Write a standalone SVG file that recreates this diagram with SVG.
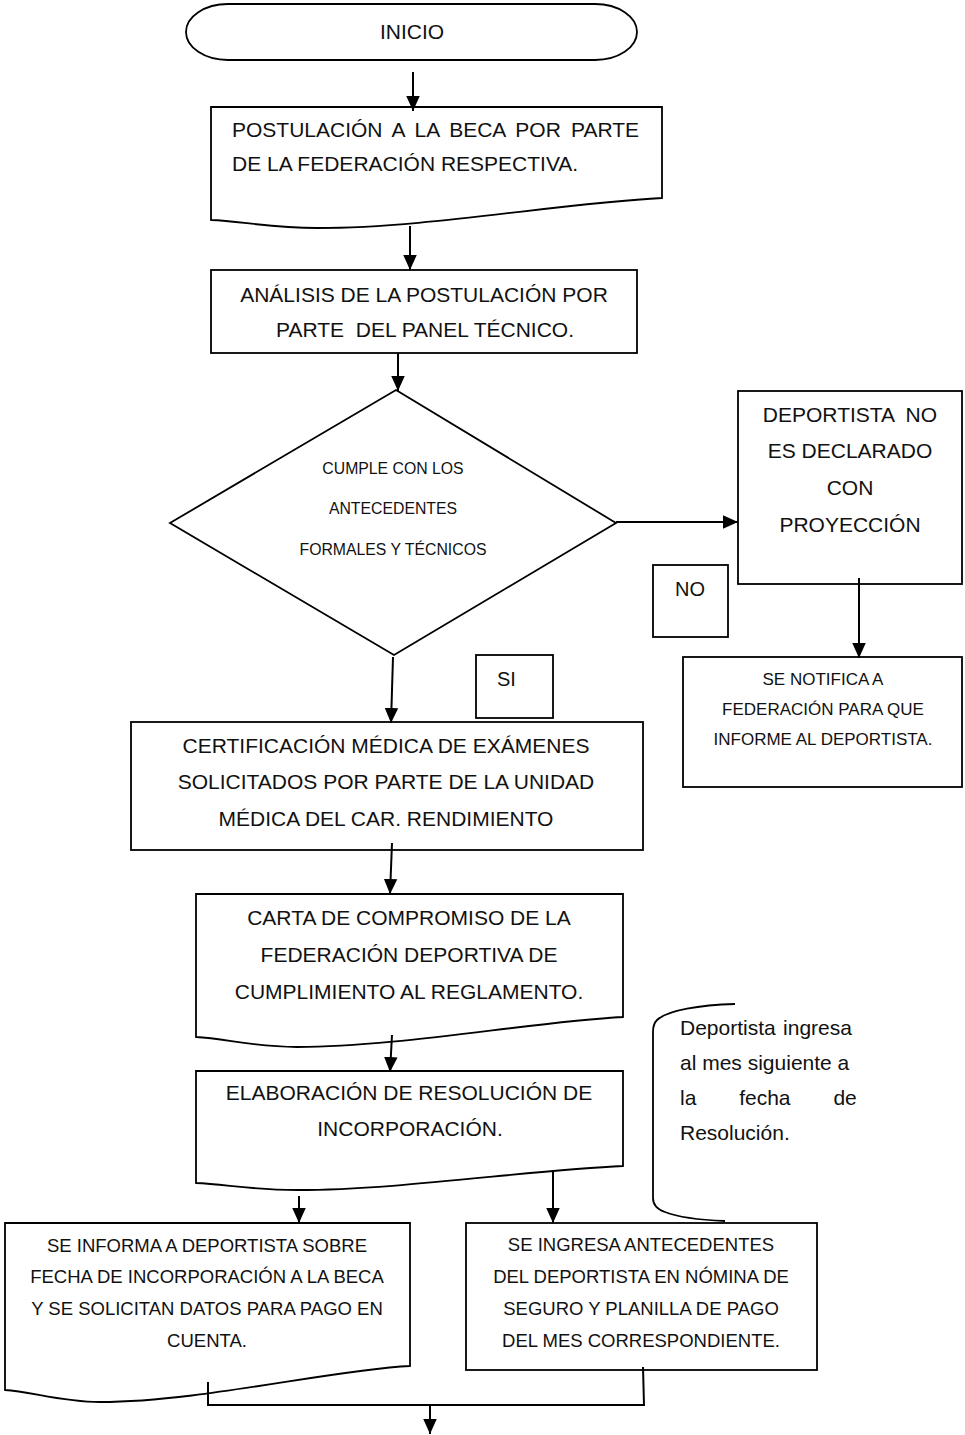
<svg xmlns="http://www.w3.org/2000/svg" width="965" height="1435" viewBox="0 0 965 1435">
<style>
  .s{fill:#fff;stroke:#000;stroke-width:1.8}
  .t{font-family:"Liberation Sans",Arial,sans-serif;fill:#111}
  .c{text-anchor:middle}
  .f21{font-size:21px}
  .f20{font-size:20px}
  .f18{font-size:18.5px}
  .f17{font-size:17px}
  .f16{font-size:15.8px}
  .pre{white-space:pre}
  .ln{fill:none;stroke:#000;stroke-width:2}
</style>
<defs>
  <marker id="ah" viewBox="0 0 10 10" refX="10" refY="5" markerWidth="15" markerHeight="15" markerUnits="userSpaceOnUse" orient="auto">
    <path d="M0,0.5 L10,5 L0,9.5 z" fill="#000"/>
  </marker>
</defs>
<rect width="965" height="1435" fill="#fff"/>

<g id="inicio">
  <rect class="s" x="186" y="4" width="451" height="56" rx="42" ry="28"/>
  <text class="t c f21" x="412" y="39">INICIO</text>
</g>

<g id="postulacion">
  <path class="s" d="M211,107 H662 V198 C560,203 430,228 317,228 C270,228 240,221 211,220 Z"/>
  <text class="t f21" x="232" y="137" style="word-spacing:4.3px">POSTULACIÓN A LA BECA POR PARTE</text>
  <text class="t f21" x="232" y="171">DE LA FEDERACIÓN RESPECTIVA.</text>
</g>

<g id="analisis">
  <rect class="s" x="211" y="270" width="426" height="83"/>
  <text class="t c f21" x="424" y="302">ANÁLISIS DE LA POSTULACIÓN POR</text>
  <text class="t c f21 pre" x="425" y="337">PARTE  DEL PANEL TÉCNICO.</text>
</g>

<g id="decision">
  <polygon class="s" points="396,390 616,523 394,655 170,523"/>
  <text class="t c f16" x="393" y="474">CUMPLE CON LOS</text>
  <text class="t c f16" x="393" y="514">ANTECEDENTES</text>
  <text class="t c f16" x="393" y="555">FORMALES Y TÉCNICOS</text>
</g>

<g id="no-proyeccion">
  <rect class="s" x="738" y="391" width="224" height="193"/>
  <text class="t c f21 pre" x="850" y="422">DEPORTISTA  NO</text>
  <text class="t c f21" x="850" y="458">ES DECLARADO</text>
  <text class="t c f21" x="850" y="495">CON</text>
  <text class="t c f21" x="850" y="532">PROYECCIÓN</text>
</g>

<g id="label-no">
  <rect class="s" x="653" y="565" width="75" height="72"/>
  <text class="t c f20" x="690" y="596">NO</text>
</g>

<g id="notifica">
  <rect class="s" x="683" y="657" width="279" height="130"/>
  <text class="t c f17" x="823" y="685">SE NOTIFICA A</text>
  <text class="t c f17" x="823" y="715">FEDERACIÓN PARA QUE</text>
  <text class="t c f17" x="823" y="745">INFORME AL DEPORTISTA.</text>
</g>

<g id="label-si">
  <rect class="s" x="476" y="655" width="77" height="63"/>
  <text class="t f20" x="497" y="686">SI</text>
</g>

<g id="certificacion">
  <rect class="s" x="131" y="722" width="512" height="128"/>
  <text class="t c f21" x="386" y="753">CERTIFICACIÓN MÉDICA DE EXÁMENES</text>
  <text class="t c f21" x="386" y="789">SOLICITADOS POR PARTE DE LA UNIDAD</text>
  <text class="t c f21" x="386" y="826">MÉDICA DEL CAR. RENDIMIENTO</text>
</g>

<g id="carta">
  <path class="s" d="M196,894 H623 V1017 C530,1022 400,1047 297,1047 C250,1047 225,1038 196,1037 Z"/>
  <text class="t c f21" x="409" y="925">CARTA DE COMPROMISO DE LA</text>
  <text class="t c f21" x="409" y="962">FEDERACIÓN DEPORTIVA DE</text>
  <text class="t c f21" x="409" y="999">CUMPLIMIENTO AL REGLAMENTO.</text>
</g>

<g id="resolucion">
  <path class="s" d="M196,1071 H623 V1166 C530,1170 400,1190 297,1190 C250,1190 225,1184 196,1183 Z"/>
  <text class="t c f21" x="409" y="1100">ELABORACIÓN DE RESOLUCIÓN DE</text>
  <text class="t c f21" x="410" y="1136">INCORPORACIÓN.</text>
</g>

<g id="nota">
  <path class="ln" style="stroke-width:1.8" d="M735,1004 C700,1005 668,1010 657,1020 Q653,1024 653,1032 V1198 Q653,1208 665,1212 C680,1218 700,1220 725,1221"/>
  <text class="t f21" x="680" y="1035" style="word-spacing:1.5px">Deportista ingresa</text>
  <text class="t f21" x="680" y="1070">al mes siguiente a</text>
  <text class="t f21" x="680" y="1105" style="word-spacing:37px">la fecha de</text>
  <text class="t f21" x="680" y="1140">Resolución.</text>
</g>

<g id="informa">
  <path class="s" d="M5,1223 H410 V1366 C330,1370 200,1402 100,1402 C60,1402 30,1391 5,1390 Z"/>
  <text class="t c f18" x="207" y="1252">SE INFORMA A DEPORTISTA SOBRE</text>
  <text class="t c f18" x="207" y="1283">FECHA DE INCORPORACIÓN A LA BECA</text>
  <text class="t c f18" x="207" y="1315">Y SE SOLICITAN DATOS PARA PAGO EN</text>
  <text class="t c f18" x="207" y="1347">CUENTA.</text>
</g>

<g id="ingresa">
  <rect class="s" x="466" y="1223" width="351" height="147"/>
  <text class="t c f18" x="641" y="1251">SE INGRESA ANTECEDENTES</text>
  <text class="t c f18" x="641" y="1283">DEL DEPORTISTA EN NÓMINA DE</text>
  <text class="t c f18" x="641" y="1315">SEGURO Y PLANILLA DE PAGO</text>
  <text class="t c f18" x="641" y="1347">DEL MES CORRESPONDIENTE.</text>
</g>

<g id="connectors">
  <line class="ln" x1="413" y1="72" x2="413" y2="111" marker-end="url(#ah)"/>
  <line class="ln" x1="410" y1="226" x2="410" y2="270" marker-end="url(#ah)"/>
  <line class="ln" x1="398" y1="353" x2="398" y2="391" marker-end="url(#ah)"/>
  <line class="ln" x1="616" y1="522" x2="738" y2="522" marker-end="url(#ah)"/>
  <line class="ln" x1="859" y1="578" x2="859" y2="658" marker-end="url(#ah)"/>
  <line class="ln" x1="393" y1="657" x2="391" y2="723" marker-end="url(#ah)"/>
  <line class="ln" x1="392" y1="843" x2="390" y2="894" marker-end="url(#ah)"/>
  <line class="ln" x1="392" y1="1035" x2="390" y2="1072" marker-end="url(#ah)"/>
  <line class="ln" x1="299" y1="1196" x2="299" y2="1223" marker-end="url(#ah)"/>
  <line class="ln" x1="553" y1="1170" x2="553" y2="1223" marker-end="url(#ah)"/>
  <polyline class="ln" points="208,1382 208,1405 644,1405 643,1367"/>
  <line class="ln" x1="430" y1="1405" x2="430" y2="1434" marker-end="url(#ah)"/>
</g>
</svg>
